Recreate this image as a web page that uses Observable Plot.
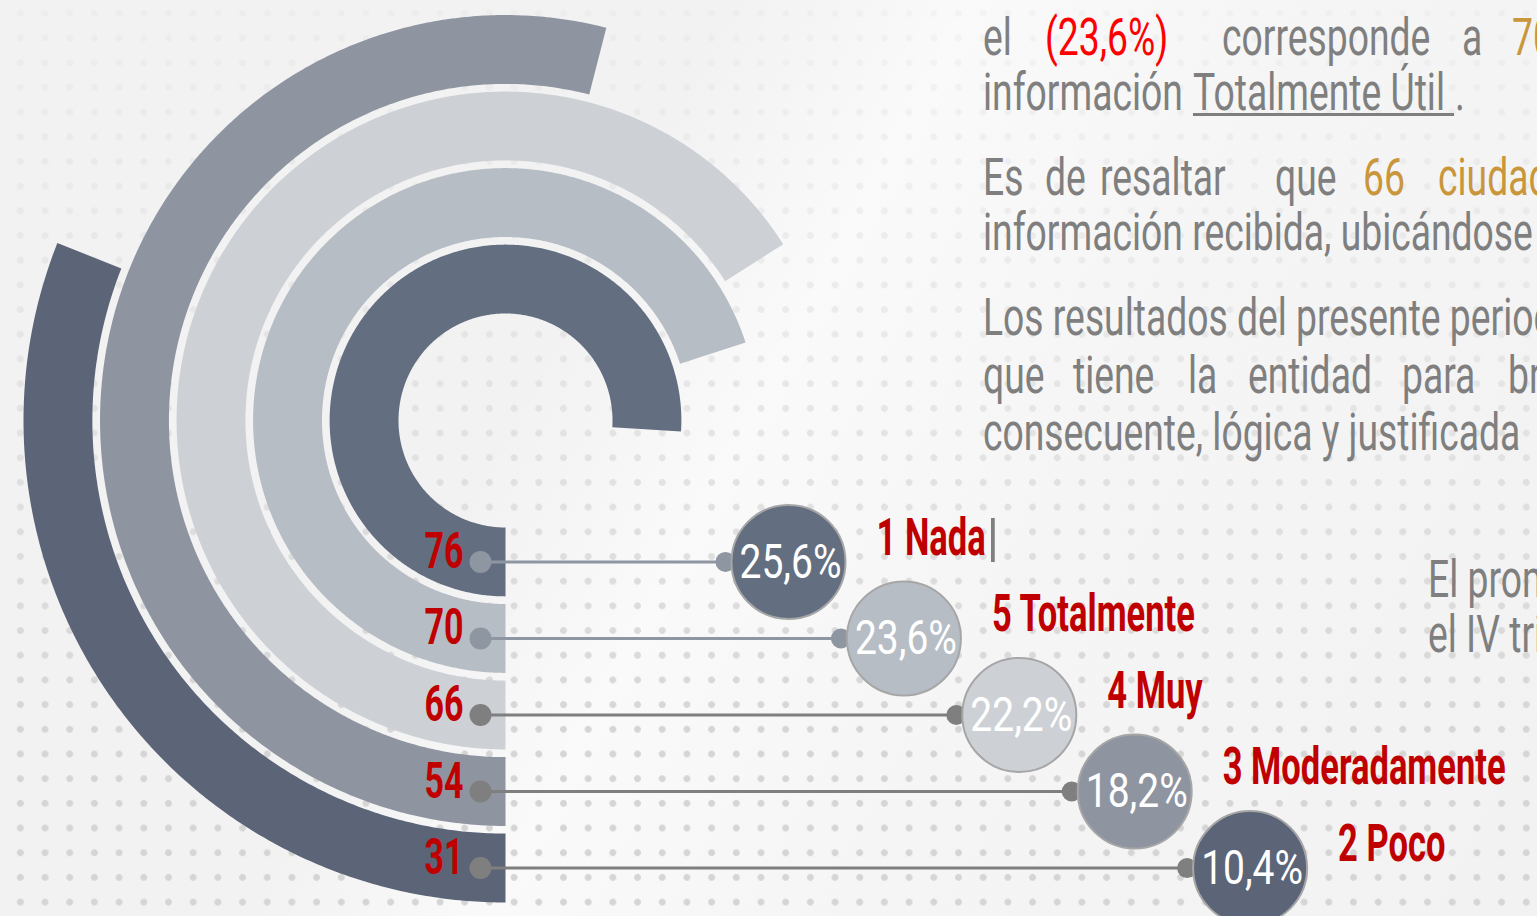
<!DOCTYPE html>
<html>
<head>
<meta charset="utf-8">
<script src="https://cdn.jsdelivr.net/npm/d3@7"></script>
<script src="https://cdn.jsdelivr.net/npm/@observablehq/plot@0.6"></script>
<style>
html, body { margin: 0; padding: 0; width: 1537px; height: 916px; overflow: hidden; background: #f2f2f2; }
#sheen { position: absolute; left: 0; top: 0; width: 1537px; height: 916px;
  background: linear-gradient(118deg, rgba(255,255,255,0) 0%, rgba(255,255,255,0) 36%, rgba(255,255,255,0.6) 48%, rgba(255,255,255,0.25) 66%, rgba(255,255,255,0) 100%); }
#dots { position: absolute; left: 0; top: 0; width: 1537px; height: 916px;
  background-image: radial-gradient(circle, #d5d5d5 3px, rgba(213,213,213,0) 3.8px);
  background-size: 24.7px 24.7px; background-position: 8px 1px;
  -webkit-mask-image: linear-gradient(to bottom, rgba(0,0,0,0.15) 0%, rgba(0,0,0,0.4) 35%, rgba(0,0,0,1) 80%);
  mask-image: linear-gradient(to bottom, rgba(0,0,0,0.15) 0%, rgba(0,0,0,0.4) 35%, rgba(0,0,0,1) 80%); }
#chart { position: absolute; left: 0; top: 0; }
#para { position: absolute; left: 0; top: 0; }
</style>
</head>
<body>
<div id="sheen"></div>
<div id="dots"></div>
<div id="chart"></div>
<svg id="para" width="1537" height="916"></svg>
<script>
// ---- data ----
const categories = ["1 Nada", "5 Totalmente", "4 Muy", "3 Moderadamente", "2 Poco"];
const counts = [76, 70, 66, 54, 31];
const percents = [25.6, 23.6, 22.2, 18.2, 10.4];

// ---- styles ----
const ringColors = ["#636F80", "#B7BDC5", "#CDD1D6", "#8E95A0", "#5B6577"];
const linkColors = ["#8E96A2", "#8E96A2", "#7F7F7F", "#7F7F7F", "#7F7F7F"];
const RED = "#C00000";
const GOLD = "#C9963C";
const GRAY = "#7f7f7f";
const FONT = "Roboto, 'Open Sans', sans-serif";

// measure helper to get the condensed look of the original lettering
function measure(str, size, weight) {
  const svg = d3.select("body").append("svg").attr("width", 10).attr("height", 10).style("position", "absolute");
  const t = svg.append("text").attr("font-family", FONT).attr("font-size", size).attr("font-weight", weight).text(str);
  const w = t.node().getComputedTextLength();
  svg.remove();
  return w;
}

// radial geometry: angle from value (clockwise starting at bottom), radius from category
const angle = d3.scaleLinear().domain([0, 100]).range([0, 2 * Math.PI]);
const radius = d3.scaleBand().domain(categories).range([107, 482]).paddingInner(0.1);
const circleX = i => 283 + 115.4 * i;

const rows = categories.map((c, i) => ({
  cat: c, count: counts[i], pct: percents[i], i,
  color: ringColors[i], link: linkColors[i],
  rMid: radius(c) + radius.bandwidth() / 2
}));

function arcPoints(d) {
  const r0 = radius(d.cat), r1 = r0 + radius.bandwidth();
  const a1 = angle(d.count);
  const n = Math.max(2, Math.ceil(a1 / (Math.PI / 360)));
  const pts = [];
  for (let k = 0; k <= n; k++) { const a = a1 * k / n; pts.push({x: -r1 * Math.sin(a), y: r1 * Math.cos(a)}); }
  for (let k = n; k >= 0; k--) { const a = a1 * k / n; pts.push({x: -r0 * Math.sin(a), y: r0 * Math.cos(a)}); }
  return pts;
}

const fmt = v => d3.format(".1f")(v).replace(".", ",") + "%";

const SZ_VAL = 50, SZ_PCT = 49, SZ_CAT = 52;

const chart = Plot.plot({
  width: 1537, height: 916, margin: 0,
  x: {domain: [-505, 1032], range: [0, 1537], axis: null},
  y: {domain: [-420, 496], range: [0, 916], axis: null},
  color: {type: "identity"},
  style: {background: "transparent", overflow: "visible"},
  marks: [
    ...rows.map(d => Plot.line(arcPoints(d), {x: "x", y: "y", fill: d.color, stroke: "none"})),
    Plot.link(rows, {x1: () => -25, y1: "rMid", x2: d => circleX(d.i), y2: "rMid", stroke: "link", strokeWidth: 3}),
    Plot.dot(rows, {x: () => -25, y: "rMid", r: 11, fill: "link"}),
    Plot.dot(rows, {x: d => circleX(d.i) - 63, y: "rMid", r: 10, fill: "link"}),
    Plot.dot(rows, {x: d => circleX(d.i), y: "rMid", r: 57, fill: "color", stroke: "#A6A6A6", strokeWidth: 2}),
    Plot.text(rows, {x: () => -42, y: "rMid", dy: -10, text: d => String(d.count), textAnchor: "end",
      fill: RED, fontSize: SZ_VAL, fontWeight: "bold", fontFamily: FONT}),
    Plot.text(rows, {x: d => circleX(d.i) + 2, y: "rMid", text: d => fmt(d.pct), fill: "white",
      fontSize: SZ_PCT, fontFamily: FONT}),
    Plot.text(rows, {x: d => circleX(d.i) + 88, y: "rMid", dy: -24, text: "cat", textAnchor: "start",
      fill: RED, fontSize: SZ_CAT, fontWeight: "bold", fontFamily: FONT}),
    Plot.text(rows.slice(0, 1), {x: d => circleX(d.i) + 198, y: "rMid", dy: -24, text: () => "|", textAnchor: "start",
      fill: GRAY, fontSize: SZ_CAT, fontFamily: FONT})
  ]
});

// horizontal condensing factors, from widths
const sxVal = 39 / measure("76", SZ_VAL, "bold");
const sxPct = 102 / measure("25,6%", SZ_PCT, "normal");
const sxCat = 283 / measure("3 Moderadamente", SZ_CAT, "bold");
const factors = [sxVal, sxPct, sxCat, 1];
d3.select(chart).selectAll("g[aria-label=text]").each(function(_, gi) {
  const f = factors[gi] ?? 1;
  d3.select(this).selectAll("text").each(function() {
    const t = this.getAttribute("transform") || "";
    this.setAttribute("transform", t + ` scale(${f},1)`);
  });
});
document.getElementById("chart").appendChild(chart);

// ---- side text (clipped at the right edge, as in the original) ----
const PSZ = 52;
const PW = 400;
const sxPar = 550 / measure("información recibida, ubicándose", PSZ, PW);
const paraLines = [
  [55, [["el", 983], ["(23,6%)", 1045, "#ff0000"], ["corresponde", 1222], ["a", 1462], ["70 ciudadanos", 1512, GOLD]]],
  [110, [["información", 983], ["Totalmente Útil", 1193], [".", 1455]]],
  [195, [["Es", 983], ["de", 1045], ["resaltar", 1100], ["que", 1275], ["66", 1363, GOLD], ["ciudadanos", 1438, GOLD]]],
  [250, [["información recibida, ubicándose en", 983]]],
  [335, [["Los resultados del presente periodo", 983]]],
  [393, [["que", 983], ["tiene", 1073], ["la", 1188], ["entidad", 1248], ["para", 1402], ["brindar", 1508]]],
  [450, [["consecuente, lógica y justificada", 983]]],
  [597, [["El promedio", 1428]]],
  [652, [["el IV trimestre", 1428]]]
];
const para = d3.select("#para");
for (const [base, words] of paraLines) {
  for (const [w, x, c] of words) {
    para.append("text")
      .attr("transform", `translate(${x},${base}) scale(${sxPar},1)`)
      .attr("font-family", FONT).attr("font-size", PSZ).attr("font-weight", PW)
      .attr("fill", c || GRAY).text(w);
  }
}
para.append("rect").attr("x", 1193).attr("y", 113).attr("width", 261).attr("height", 3).attr("fill", GRAY);
</script>
</body>
</html>
